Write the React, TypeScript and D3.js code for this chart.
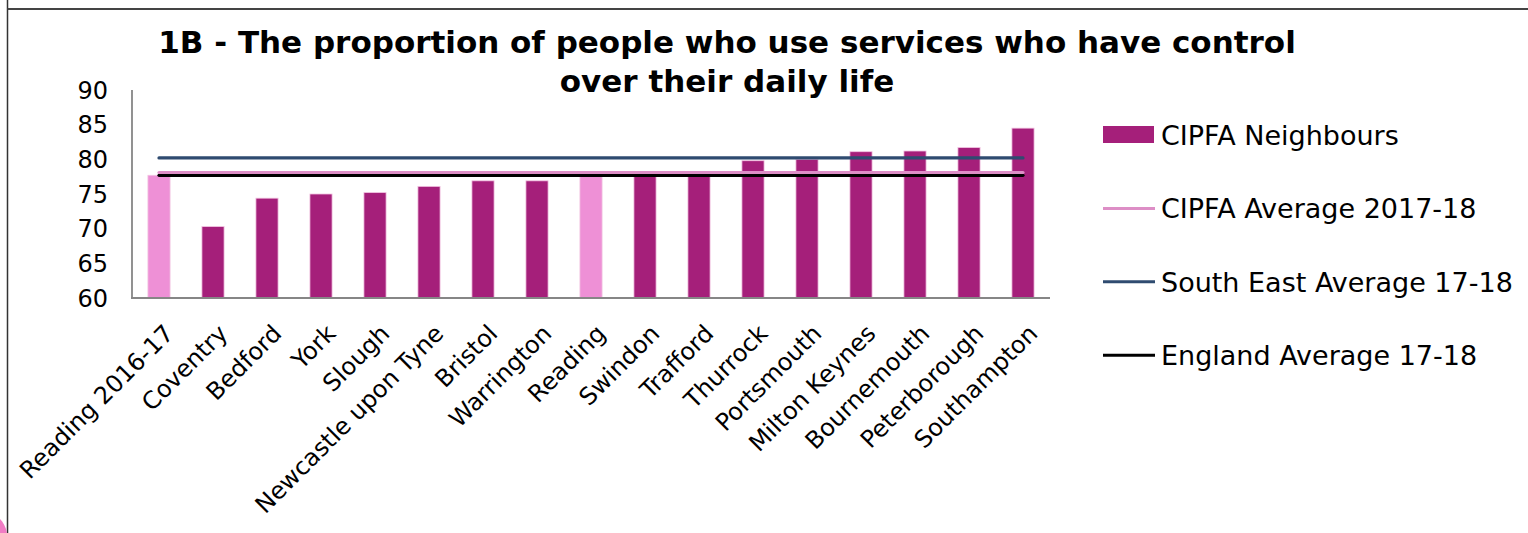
import React from "react";
import * as d3 from "d3";

const categories = [
  "Reading 2016-17", "Coventry", "Bedford", "York", "Slough", "Newcastle upon Tyne",
  "Bristol", "Warrington", "Reading", "Swindon", "Trafford", "Thurrock", "Portsmouth",
  "Milton Keynes", "Bournemouth", "Peterborough", "Southampton",
];
const values = [77.7, 70.3, 74.4, 75.0, 75.2, 76.1, 76.9, 76.9, 77.8, 77.9, 78.0, 79.8, 80.0, 81.1, 81.2, 81.7, 84.5];
const highlighted = ["Reading 2016-17", "Reading"];
const cipfaAverage = 78.1;
const southEastAverage = 80.2;
const englandAverage = 77.7;
const yTicks = [60, 65, 70, 75, 80, 85, 90];
const titleLines = ["1B - The proportion of people who use services who have control", "over their daily life"];
const legendItems = [
  { label: "CIPFA Neighbours", type: "rect", color: "#A51F7A" },
  { label: "CIPFA Average 2017-18", type: "line", color: "#DD8EC6" },
  { label: "South East Average 17-18", type: "line", color: "#2F4B70" },
  { label: "England Average 17-18", type: "line", color: "#000000" },
];

const W = 1528, H = 533;
const FONT = "'DejaVu Sans', Verdana, sans-serif";

export default function App() {
  const x = d3.scaleBand<string>().domain(categories).range([132, 1050]).paddingInner(0.59).paddingOuter(0.295);
  const y = d3.scaleLinear().domain([60, 90]).range([298, 90]);
  const bw = x.bandwidth();
  const cx = (c: string) => (x(c) as number) + bw / 2;
  const x0 = cx(categories[0]);
  const x1 = cx(categories[categories.length - 1]);
  const refLines = [
    { v: southEastAverage, color: "#2F4B70" },
    { v: englandAverage, color: "#000000" },
    { v: cipfaAverage, color: "#DD8EC6" },
  ];
  return (
    <svg width={W} height={H} style={{ position: "absolute", left: 0, top: 0, background: "#fff" }}>
      {/* frame */}
      <line x1={7.5} y1={0} x2={7.5} y2={H} stroke="#333" strokeWidth={1.5} />
      <line x1={7.5} y1={9} x2={W} y2={9} stroke="#444" strokeWidth={2} />
      <path d="M0,519 C3,522 6,527 7,533 L0,533 Z" fill="#F07CC4" />

      {/* title */}
      <text x={727} y={53} textAnchor="middle" fontFamily={FONT} fontWeight="bold" fontSize={31} fill="#000">{titleLines[0]}</text>
      <text x={727} y={92} textAnchor="middle" fontFamily={FONT} fontWeight="bold" fontSize={31} fill="#000">{titleLines[1]}</text>

      {/* y tick labels */}
      {yTicks.map((t) => (
        <text key={t} x={108} y={y(t)} dy="0.36em" textAnchor="end" fontFamily={FONT} fontSize={24} fill="#000">{t}</text>
      ))}

      {/* bars */}
      {categories.map((c, i) => (
        <rect key={c} x={x(c)} y={y(values[i])} width={bw} height={y(60) - y(values[i])}
          fill={highlighted.includes(c) ? "#EE90D6" : "#A51F7A"} stroke="#F2C4E2" strokeWidth={0.8} />
      ))}

      {/* reference lines */}
      {refLines.map((r, i) => (
        <line key={i} x1={x0} x2={x1} y1={y(r.v)} y2={y(r.v)} stroke={r.color} strokeWidth={3.2} strokeLinecap="round" />
      ))}

      {/* axes */}
      <line x1={132} y1={90} x2={132} y2={299} stroke="#868686" strokeWidth={1.8} />
      <line x1={131} y1={298} x2={1050} y2={298} stroke="#868686" strokeWidth={1.8} />

      {/* category labels */}
      {categories.map((c) => (
        <text key={c} transform={`translate(${cx(c) + 16},${335}) rotate(-45)`} textAnchor="end"
          fontFamily={FONT} fontSize={24} fill="#000">{c}</text>
      ))}

      {/* legend */}
      {legendItems.map((l, i) => {
        const by = 145 + i * 73.4;
        return (
          <g key={l.label}>
            {l.type === "rect" ? (
              <rect x={1103} y={by - 19} width={51} height={17} fill={l.color} />
            ) : (
              <line x1={1103} x2={1155} y1={by - 10} y2={by - 10} stroke={l.color} strokeWidth={3} />
            )}
            <text x={1161} y={by} fontFamily={FONT} fontSize={27} fill="#000">{l.label}</text>
          </g>
        );
      })}
    </svg>
  );
}
